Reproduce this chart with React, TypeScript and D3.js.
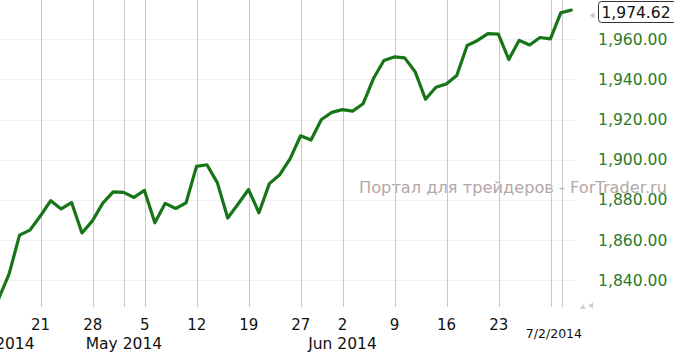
import React from "react";
import * as d3 from "d3";

const dates: string[] = [
  "2014-04-14","2014-04-15","2014-04-16","2014-04-17","2014-04-21","2014-04-22","2014-04-23","2014-04-24","2014-04-25",
  "2014-04-28","2014-04-29","2014-04-30","2014-05-01","2014-05-02","2014-05-05","2014-05-06","2014-05-07","2014-05-08",
  "2014-05-09","2014-05-12","2014-05-13","2014-05-14","2014-05-15","2014-05-16","2014-05-19","2014-05-20","2014-05-21",
  "2014-05-22","2014-05-23","2014-05-27","2014-05-28","2014-05-29","2014-05-30","2014-06-02","2014-06-03","2014-06-04",
  "2014-06-05","2014-06-06","2014-06-09","2014-06-10","2014-06-11","2014-06-12","2014-06-13","2014-06-16","2014-06-17",
  "2014-06-18","2014-06-19","2014-06-20","2014-06-23","2014-06-24","2014-06-25","2014-06-26","2014-06-27","2014-06-30",
  "2014-07-01","2014-07-02",
];

const closes: number[] = [
  1830.61, 1842.98, 1862.31, 1864.85, 1871.89, 1879.55, 1875.39, 1878.61, 1863.4,
  1869.43, 1878.33, 1883.95, 1883.68, 1881.14, 1884.66, 1868.5, 1878.21, 1875.63,
  1878.48, 1896.65, 1897.45, 1888.53, 1870.85, 1877.86, 1885.08, 1873.5, 1888.03,
  1892.49, 1900.53, 1911.91, 1909.78, 1920.03, 1923.57, 1924.97, 1924.24, 1927.88,
  1940.46, 1949.44, 1951.27, 1950.79, 1943.89, 1930.11, 1936.16, 1937.78, 1941.99,
  1956.98, 1959.48, 1962.87, 1962.61, 1949.98, 1959.53, 1957.22, 1960.96, 1960.23,
  1973.32, 1974.62,
];

const weekTicks: string[] = [
  "2014-04-21","2014-04-28","2014-05-05","2014-05-12","2014-05-19","2014-05-27",
  "2014-06-02","2014-06-09","2014-06-16","2014-06-23",
];
const weekTickLabels: string[] = ["21","28","5","12","19","27","2","9","16","23"];
const extraGridDates: string[] = ["2014-05-01","2014-06-30","2014-07-01"];

const monthAnchors: string[] = ["2014-04-14","2014-05-01","2014-06-02"];
const monthLabels: string[] = ["Apr 2014","May 2014","Jun 2014"];

const yTicks: number[] = [1840, 1860, 1880, 1900, 1920, 1940, 1960];
const lastLabel = "1,974.62";
const currentDateLabel = "7/2/2014";
const watermark = "Портал для трейдеров - ForTrader.ru";

const W = 674;
const H = 352;
const FONT = "'DejaVu Sans', Verdana, sans-serif";

export default function App() {
  const x = d3.scalePoint<string>().domain(dates).range([-1.3, -1.3 + 10.41 * (dates.length - 1)]);
  const y = d3.scaleLinear().domain([1840, 1960]).range([279.9, 39.4]);
  const plotRight = 576;
  const plotBottom = 307;

  const data = dates.map((d, i) => ({ d, v: closes[i] }));
  const line = d3
    .line<{ d: string; v: number }>()
    .x((p) => x(p.d) as number)
    .y((p) => y(p.v));

  const fmt = d3.format(",.2f");
  const gridDates = [...weekTicks, ...extraGridDates];

  return (
    <svg
      width={W}
      height={H}
      style={{ position: "absolute", left: 0, top: 0, background: "#fff" }}
      fontFamily={FONT}
    >
      <defs>
        <clipPath id="plotclip">
          <rect x={0} y={0} width={plotRight} height={plotBottom} />
        </clipPath>
      </defs>
      {yTicks.map((t) => (
        <line key={"h" + t} x1={0} x2={plotRight} y1={Math.round(y(t)) + 0.5} y2={Math.round(y(t)) + 0.5} stroke="#efefef" strokeWidth={1} />
      ))}
      <text x={359} y={193.3} fontSize={16} fill="#b3a7a7" textLength={308} lengthAdjust="spacingAndGlyphs">
        {watermark}
      </text>
      {gridDates.map((d) => {
        const gx = Math.round((x(d) as number) + 0.8) + 0.5;
        return <line key={"v" + d} x1={gx} x2={gx} y1={0} y2={plotBottom} stroke="#c8c8c8" strokeWidth={1} />;
      })}
      <path
        d={line(data) || ""}
        fill="none"
        stroke="#177517"
        strokeWidth={3.2}
        strokeLinejoin="round"
        strokeLinecap="round"
        clipPath="url(#plotclip)"
      />
      {yTicks.map((t) => (
        <text key={"yl" + t} x={598} y={y(t) + 5.7} fontSize={15.6} fill="#2b7a2b">
          {fmt(t)}
        </text>
      ))}
      {weekTicks.map((d, i) => (
        <text key={"wt" + d} x={(x(d) as number) + 0.3} y={330} fontSize={15} textAnchor="middle" fill="#111">
          {weekTickLabels[i]}
        </text>
      ))}
      {monthAnchors.map((d, i) => (
        <text key={"m" + d} x={(x(d) as number) + 0.3} y={349} fontSize={15.5} textAnchor="middle" fill="#111">
          {monthLabels[i]}
        </text>
      ))}
      <text x={582} y={337.7} fontSize={12.5} textAnchor="end" fill="#111">
        {currentDateLabel}
      </text>
      <path d="M589.5,15.5 L594.5,12.5 L594.5,18.5 Z" fill="#c8c8c8" />
      <rect x={598.5} y={1.5} width={80} height={21} rx={3} ry={3} fill="#fff" stroke="#333" strokeWidth={1} />
      <text x={601.5} y={18.3} fontSize={15.5} fill="#111">
        {lastLabel}
      </text>
      <path d="M580,309 L583,304 L586,309 Z" fill="#cfcfcf" />
      <path d="M588,305.5 L593,302.5 L593,308.5 Z" fill="#cfcfcf" />
    </svg>
  );
}
